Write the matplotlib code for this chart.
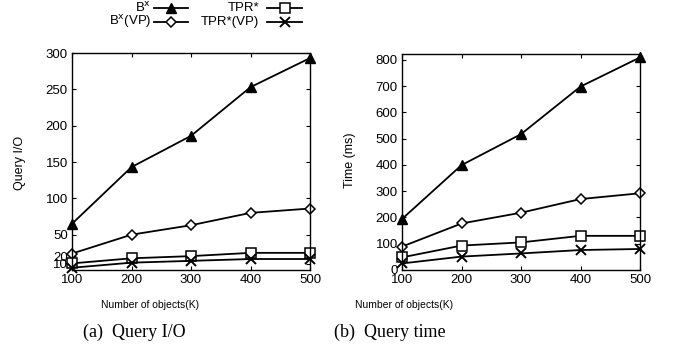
import matplotlib
matplotlib.use('Agg')
import matplotlib.pyplot as plt
from matplotlib.lines import Line2D

plt.rcParams['font.family'] = 'Liberation Sans'

x = [100, 200, 300, 400, 500]

# Query I/O
io_bx = [65, 143, 186, 253, 293]
io_bx_vp = [24, 50, 63, 80, 86]
io_tpr = [10.5, 17.5, 20.5, 25, 25]
io_tpr_vp = [4.5, 11.5, 14, 16.5, 16.5]

# Query time (ms)
t_bx = [194, 399, 517, 698, 809]
t_bx_vp = [89, 177, 218, 270, 292]
t_tpr = [48, 93, 105, 130, 130]
t_tpr_vp = [25, 51, 63, 76, 80]

labels = ['B$^{\\mathrm{x}}$', 'B$^{\\mathrm{x}}$(VP)', 'TPR*', 'TPR*(VP)']
estilos = [
    dict(marker='^', ms=6.5, mfc='black', mec='black'),
    dict(marker='D', ms=5.5, mfc='white', mec='black', mew=1.1),
    dict(marker='s', ms=6.5, mfc='white', mec='black', mew=1.1),
    dict(marker='x', ms=7, mec='black', mew=1.4),
]

fig = plt.figure(figsize=(6.73, 3.56), dpi=100)
W, H = 673.0, 356.0

def ejes(x0, x1, y0, y1):
    return fig.add_axes([x0 / W, 1 - y1 / H, (x1 - x0) / W, (y1 - y0) / H])

ax1 = ejes(72, 310, 53, 270)
ax2 = ejes(402, 640, 54, 270)

for ax, series in [(ax1, [io_bx, io_bx_vp, io_tpr, io_tpr_vp]),
                   (ax2, [t_bx, t_bx_vp, t_tpr, t_tpr_vp])]:
    for s, st in zip(series, estilos):
        ax.plot(x, s, color='black', lw=1.3, clip_on=False, **st)
    ax.set_xlim(100, 500)
    ax.set_xticks(x)
    ax.tick_params(direction='in', length=3, width=0.8, top=True, right=True,
                   labelsize=9.5, pad=3, color='black')
    for sp in ax.spines.values():
        sp.set_linewidth(1.0)

ax1.set_ylim(1.4, 300)
ax1.set_yticks([10, 20, 50, 100, 150, 200, 250, 300])
ax2.set_ylim(0, 822)
ax2.set_yticks([0, 100, 200, 300, 400, 500, 600, 700, 800])

# y labels
fig.text(20 / W, 1 - 163 / H, 'Query I/O', rotation=90, ha='center', va='center', fontsize=9)
fig.text(350 / W, 1 - 160 / H, 'Time (ms)', rotation=90, ha='center', va='center', fontsize=9)

# x labels
fig.text(150 / W, 1 - 305 / H, 'Number of objects(K)', ha='center', va='center', fontsize=7.5)
fig.text(404 / W, 1 - 305 / H, 'Number of objects(K)', ha='center', va='center', fontsize=7.5)

# captions
fig.text(134 / W, 1 - 332 / H, '(a)  Query I/O', ha='center', va='center', fontsize=13,
         family='Liberation Serif')
fig.text(390 / W, 1 - 332 / H, '(b)  Query time', ha='center', va='center', fontsize=13,
         family='Liberation Serif')

# legend (gnuplot style: text right-aligned, then sample)
pos = [(151, 154, 188, 8), (151, 154, 188, 22), (259, 267, 302, 8), (259, 267, 302, 22)]
for lab, st, (tx, l0, l1, yy) in zip(labels, estilos, pos):
    fig.text(tx / W, 1 - yy / H, lab, ha='right', va='center', fontsize=9.5)
    fig.add_artist(Line2D([l0 / W, l1 / W], [1 - yy / H, 1 - yy / H], color='black', lw=1.3,
                          transform=fig.transFigure))
    fig.add_artist(Line2D([(l0 + l1) / 2 / W], [1 - yy / H], color='black', lw=0,
                          transform=fig.transFigure, **st))

fig.savefig('out.png', dpi=100)
